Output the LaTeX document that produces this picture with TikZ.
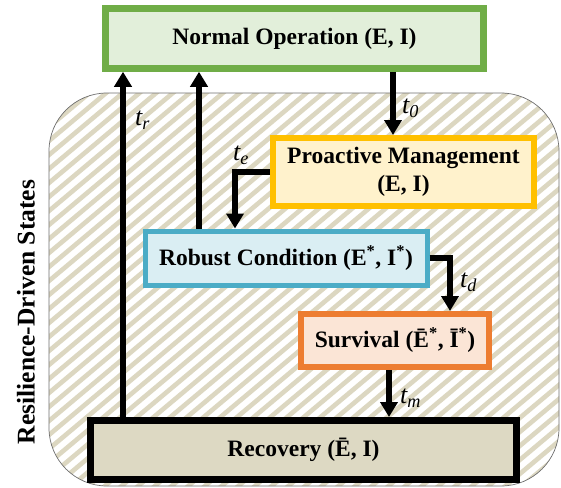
\documentclass[tikz,border=0pt]{standalone}
\usepackage{fontspec}
\setmainfont{Liberation Serif}
\usetikzlibrary{arrows.meta}

\definecolor{normalEdge}{HTML}{70AD47}
\definecolor{normalFill}{HTML}{E2EFDA}
\definecolor{proEdge}{HTML}{FFC000}
\definecolor{proFill}{HTML}{FFF2CC}
\definecolor{robEdge}{HTML}{4BACC6}
\definecolor{robFill}{HTML}{DAEEF3}
\definecolor{survEdge}{HTML}{ED7D31}
\definecolor{survFill}{HTML}{FBE5D6}
\definecolor{recFill}{HTML}{DDD9C3}
\definecolor{hatchLine}{HTML}{DCD7C1}
\definecolor{regionEdge}{HTML}{6E6E6E}

\newcommand\statefont{\fontsize{23.5}{28}\selectfont\bfseries}
\newcommand\sidefont{\fontsize{25.5}{30}\selectfont\bfseries}
\newcommand\timefont{\fontsize{26}{30}\selectfont\itshape}
\newcommand\tlab[1]{t\textsubscript{\itshape #1}}

\tikzset{
  state/.style={draw, rectangle, inner sep=0pt, align=center, font=\statefont},
  flow/.style={line width=5.5pt, -{Triangle[length=15pt,width=17pt]}},
  timelabel/.style={anchor=west, inner sep=0pt, font=\timefont},
  hatch/.style={hatchLine, line width=4.6pt},
  region/.style={draw=regionEdge, line width=0.7pt, rounded corners=58pt}
}

\begin{document}
\begin{tikzpicture}[x=1pt, y=-1pt]
\useasboundingbox (0,0) rectangle (561,487);

% hatched background of the resilience-driven states
\begin{scope}
  \clip[rounded corners=58pt] (49,93) rectangle (559,486);
  \fill[white] (49,93) rectangle (559,486);
  \foreach \k in {-2,...,72}
    \draw[hatch] (-100,{\k*14+83.9}) -- (700,{\k*14-587.3});
\end{scope}
\draw[region] (49,93) rectangle (559,486);

\node[rotate=90, font=\sidefont] (side) at (26,312) {Resilience-Driven States};

% states
\node[state, draw=normalEdge, fill=normalFill, line width=6.5pt,
      minimum width=378, minimum height=60] (norm) at (294.5,38.5)
      {Normal Operation (E, I)};
\node[state, draw=proEdge, fill=proFill, line width=6pt,
      minimum width=261, minimum height=68] (pro) at (403.5,172)
      {Proactive Management\\(E, I)};
\node[state, draw=robEdge, fill=robFill, line width=5pt,
      minimum width=282, minimum height=54] (rob) at (286,258)
      {Robust Condition (E\textsuperscript{*}, I\textsuperscript{*})};
\node[state, draw=survEdge, fill=survFill, line width=6pt,
      minimum width=188, minimum height=53] (surv) at (395,340.5)
      {Survival (Ē\textsuperscript{*}, Ī\textsuperscript{*})};
\node[state, draw=black, fill=recFill, line width=7pt,
      minimum width=426, minimum height=59] (rec) at (303.5,450)
      {Recovery (Ē, I)};

% columns of the vertical connectors
\coordinate (xr) at (123,0);
\coordinate (xb) at (199,0);
\coordinate (x0) at (393,0);
\coordinate (xe) at (235,0);
\coordinate (xd) at (450,0);
\coordinate (xm) at (389,0);

% transitions
\draw[flow] (xr |- rec.north) -- (xr |- norm.south);
\draw[flow] (xb |- rob.north) -- (xb |- norm.south);
\draw[flow] (x0 |- norm.south) -- (x0 |- pro.north);
\draw[flow] (pro.west) -| (xe |- rob.north);
\draw[flow] (rob.east) -| (xd |- surv.north);
\draw[flow] (xm |- surv.south) -- (xm |- rec.north);

% transition times
\node[timelabel] (tr) at (135,120) {\tlab{r}};
\node[timelabel] (t0) at (402,108) {\tlab{0}};
\node[timelabel] (te) at (233,155) {\tlab{e}};
\node[timelabel] (td) at (460,282) {\tlab{d}};
\node[timelabel] (tm) at (400,398) {\tlab{m}};
\end{tikzpicture}
\end{document}
